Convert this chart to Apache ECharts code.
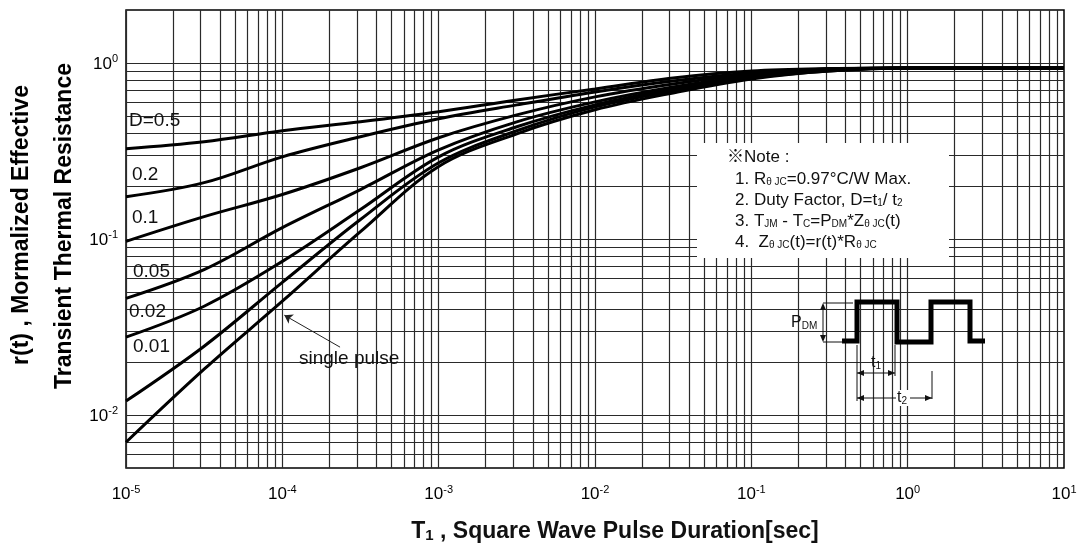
<!DOCTYPE html>
<html>
<head>
<meta charset="utf-8">
<title>Transient Thermal Response</title>
<script src="https://cdn.jsdelivr.net/npm/echarts@6/dist/echarts.min.js"></script>
<style>
  html, body { margin: 0; padding: 0; background: #fff; }
  #chart { width: 1081px; height: 549px; }
</style>
</head>
<body>
<div id="chart"></div>
<script>
// pulse duration in seconds, half decade steps
const pulseTime = [1e-5, 3.16e-5, 1e-4, 3.16e-4, 1e-3, 3.16e-3, 1e-2, 3.16e-2, 1e-1, 3.16e-1, 1, 3.16, 10];

// r(t), one list per duty factor
const rD050 = [0.326, 0.357, 0.412, 0.463, 0.528, 0.617, 0.712, 0.822, 0.901, 0.930, 0.937, 0.937, 0.937];
const rD020 = [0.174, 0.209, 0.293, 0.381, 0.482, 0.578, 0.685, 0.791, 0.878, 0.925, 0.937, 0.937, 0.937];
const rD010 = [0.097, 0.134, 0.179, 0.254, 0.376, 0.507, 0.642, 0.760, 0.866, 0.925, 0.937, 0.937, 0.937];
const rD005 = [0.046, 0.067, 0.116, 0.191, 0.321, 0.463, 0.601, 0.731, 0.844, 0.913, 0.937, 0.937, 0.937];
const rD002 = [0.0277, 0.0415, 0.0746, 0.147, 0.293, 0.434, 0.578, 0.712, 0.833, 0.913, 0.937, 0.937, 0.937];
const rD001 = [0.0120, 0.0246, 0.0567, 0.129, 0.271, 0.412, 0.563, 0.694, 0.822, 0.901, 0.937, 0.937, 0.937];
const rSingle = [0.0070, 0.0182, 0.0443, 0.110, 0.258, 0.396, 0.542, 0.676, 0.812, 0.901, 0.937, 0.937, 0.937];

const curveNames = ['D=0.5', '0.2', '0.1', '0.05', '0.02', '0.01', 'single pulse'];
const curveValues = [rD050, rD020, rD010, rD005, rD002, rD001, rSingle];

// axis ranges
const xMin = 1e-5, xMax = 10;
const yMin = 0.005, yMax = 2;

// log grid lines (1..9 in every decade)
const xGridLines = [];
for (let n = -5; n <= 0; n++) {
  for (let k = 1; k <= 9; k++) xGridLines.push(+(k * Math.pow(10, n)).toPrecision(3));
}
const yGridLines = [];
for (let n = -3; n <= -1; n++) {
  for (let k = 1; k <= 9; k++) {
    const v = +(k * Math.pow(10, n)).toPrecision(3);
    if (v > yMin) yGridLines.push(v);
  }
}
yGridLines.push(1);

const FONT = '"Liberation Sans", Arial, "Noto Sans CJK JP", sans-serif';

const chart = echarts.init(document.getElementById('chart'));

function powLabel(v) {
  const e = Math.log10(v);
  if (Math.abs(e - Math.round(e)) > 1e-6) return '';
  return '{b|10}{s|' + Math.round(e) + '}';
}
const powRich = {
  b: { fontSize: 17, fontFamily: FONT, color: '#000', verticalAlign: 'bottom' },
  s: { fontSize: 11, fontFamily: FONT, color: '#000', verticalAlign: 'bottom', padding: [0, 0, 8, 0] }
};

const series = [];
// grid lines as marker lines on an empty series, drawn under the curves
const gridSegs = xGridLines.map(v => [{ coord: [v, yMin] }, { coord: [v, yMax] }])
  .concat(yGridLines.map(v => [{ coord: [xMin, v] }, { coord: [xMax, v] }]));
series.push({
  type: 'line',
  data: [],
  z: 1,
  silent: true,
  markLine: {
    silent: true,
    animation: false,
    symbol: ['none', 'none'],
    label: { show: false },
    lineStyle: { color: '#2a2a2a', width: 1.2, type: 'solid' },
    emphasis: { disabled: true },
    data: gridSegs
  }
});

curveValues.forEach((vals, i) => {
  const s = {
    name: curveNames[i],
    type: 'line',
    smooth: 0.35,
    showSymbol: false,
    z: 5,
    lineStyle: { color: '#000', width: 3 },
    data: pulseTime.map((t, j) => [t, vals[j]])
  };
  if (curveNames[i] === 'single pulse') {
    s.markLine = {
      silent: true,
      animation: false,
      symbol: ['none', 'arrow'],
      symbolSize: 8,
      label: { show: false },
      lineStyle: { color: '#222', width: 1, type: 'solid' },
      data: [[{ coord: [2.34e-4, 0.0243] }, { coord: [1.03e-4, 0.0369] }]]
    };
  }
  series.push(s);
});

function txt(x, y, text, rich, extra) {
  return {
    type: 'text',
    x: x,
    y: y,
    z: 120,
    style: Object.assign({
      text: text,
      rich: rich,
      fontFamily: FONT,
      fontSize: 19,
      fill: '#111',
      align: 'left',
      verticalAlign: 'middle'
    }, extra || {})
  };
}

// note box text styles
const noteRich = {
  n: { fontSize: 17, fontFamily: FONT, color: '#111', verticalAlign: 'bottom' },
  sb: { fontSize: 10, fontFamily: FONT, color: '#111', verticalAlign: 'bottom', lineHeight: 10 }
};
const diaRich = {
  n: { fontSize: 16, fontFamily: FONT, color: '#1c2a4a', verticalAlign: 'bottom' },
  sb: { fontSize: 10, fontFamily: FONT, color: '#1c2a4a', verticalAlign: 'bottom', lineHeight: 10 }
};

function arrowHead(x, y, dir) {
  // small filled triangle, tip at (x, y)
  const L = 7, W = 3;
  let pts;
  if (dir === 'up') pts = [[x, y], [x - W, y + L], [x + W, y + L]];
  else if (dir === 'down') pts = [[x, y], [x - W, y - L], [x + W, y - L]];
  else if (dir === 'left') pts = [[x, y], [x + L, y - W], [x + L, y + W]];
  else pts = [[x, y], [x - L, y - W], [x - L, y + W]];
  return { type: 'polygon', z: 110, shape: { points: pts }, style: { fill: '#111' } };
}
function seg(x1, y1, x2, y2) {
  return { type: 'line', z: 110, shape: { x1, y1, x2, y2 }, style: { stroke: '#111', lineWidth: 1 } };
}

const graphic = [
  // note box
  { type: 'rect', z: 100, shape: { x: 697, y: 143, width: 252, height: 115 }, style: { fill: '#fff' } },
  txt(727, 157, '{n|※Note :}', noteRich),
  txt(735, 179, '{n|1. R}{sb|θ JC}{n|=0.97°C/W Max.}', noteRich),
  txt(735, 200, '{n|2. Duty Factor, D=t}{sb|1}{n|/ t}{sb|2}', noteRich),
  txt(735, 221, '{n|3. T}{sb|JM}{n| - T}{sb|C}{n|=P}{sb|DM}{n|*Z}{sb|θ JC}{n|(t)}', noteRich),
  txt(735, 242, '{n|4.  Z}{sb|θ JC}{n|(t)=r(t)*R}{sb|θ JC}', noteRich),

  // curve labels
  txt(129, 121, 'D=0.5'),
  txt(132, 175, '0.2'),
  txt(132, 218, '0.1'),
  txt(133, 272, '0.05'),
  txt(129, 312, '0.02'),
  txt(133, 347, '0.01'),
  txt(299, 359, 'single pulse'),

  // square wave sketch
  {
    type: 'polyline', z: 110,
    shape: { points: [[842, 341], [857, 341], [857, 302], [897, 302], [897, 342], [931, 342], [931, 302], [970, 302], [970, 341], [985, 341]] },
    style: { stroke: '#000', lineWidth: 5, fill: null, lineJoin: 'miter' }
  },
  seg(823, 303, 853, 303),
  seg(823, 342, 843, 342),
  seg(823, 305, 823, 340),
  arrowHead(823, 303, 'up'),
  arrowHead(823, 342, 'down'),
  txt(791, 323, '{n|P}{sb|DM}', diaRich),
  seg(857, 345, 857, 401),
  seg(895, 345, 895, 376),
  seg(857, 373, 895, 373),
  arrowHead(857, 373, 'left'),
  arrowHead(895, 373, 'right'),
  txt(871, 363, '{n|t}{sb|1}', diaRich),
  seg(857, 398, 932, 398),
  arrowHead(857, 398, 'left'),
  arrowHead(932, 398, 'right'),
  seg(932, 371, 932, 399),
  { type: 'rect', z: 111, shape: { x: 896, y: 390, width: 14, height: 16 }, style: { fill: '#fff' } },
  txt(897, 398, '{n|t}{sb|2}', diaRich, { z: 112 }),

  // axis titles
  txt(615, 532, '{t|T}{u|1}{t| , Square Wave Pulse Duration[sec]}', {
    t: { fontSize: 23, fontWeight: 'bold', fontFamily: FONT, color: '#000', verticalAlign: 'bottom' },
    u: { fontSize: 15, fontWeight: 'bold', fontFamily: FONT, color: '#000', verticalAlign: 'bottom' }
  }, { align: 'center' }),
  Object.assign(txt(22, 225, 'r(t) , Mormalized Effective', null,
    { align: 'center', fontSize: 23, fontWeight: 'bold', fill: '#000' }), { rotation: Math.PI / 2 }),
  Object.assign(txt(65, 226, 'Transient Thermal Resistance', null,
    { align: 'center', fontSize: 23, fontWeight: 'bold', fill: '#000' }), { rotation: Math.PI / 2 })
];

chart.setOption({
  animation: false,
  backgroundColor: '#fff',
  grid: {
    left: 126,
    right: 17,
    top: 10,
    bottom: 81,
    show: true,
    borderColor: '#000',
    borderWidth: 1.5,
    backgroundColor: '#fff'
  },
  xAxis: {
    type: 'log',
    logBase: 10,
    min: xMin,
    max: xMax,
    splitNumber: 6,
    axisLine: { show: false },
    axisTick: { show: false },
    splitLine: { show: false },
    axisLabel: { margin: 16, formatter: powLabel, rich: powRich }
  },
  yAxis: {
    type: 'log',
    logBase: 10,
    min: yMin,
    max: yMax,
    axisLine: { show: false },
    axisTick: { show: false },
    splitLine: { show: false },
    axisLabel: { margin: 8, showMinLabel: false, showMaxLabel: false, formatter: powLabel, rich: powRich }
  },
  series: series,
  graphic: graphic
});
</script>
</body>
</html>
